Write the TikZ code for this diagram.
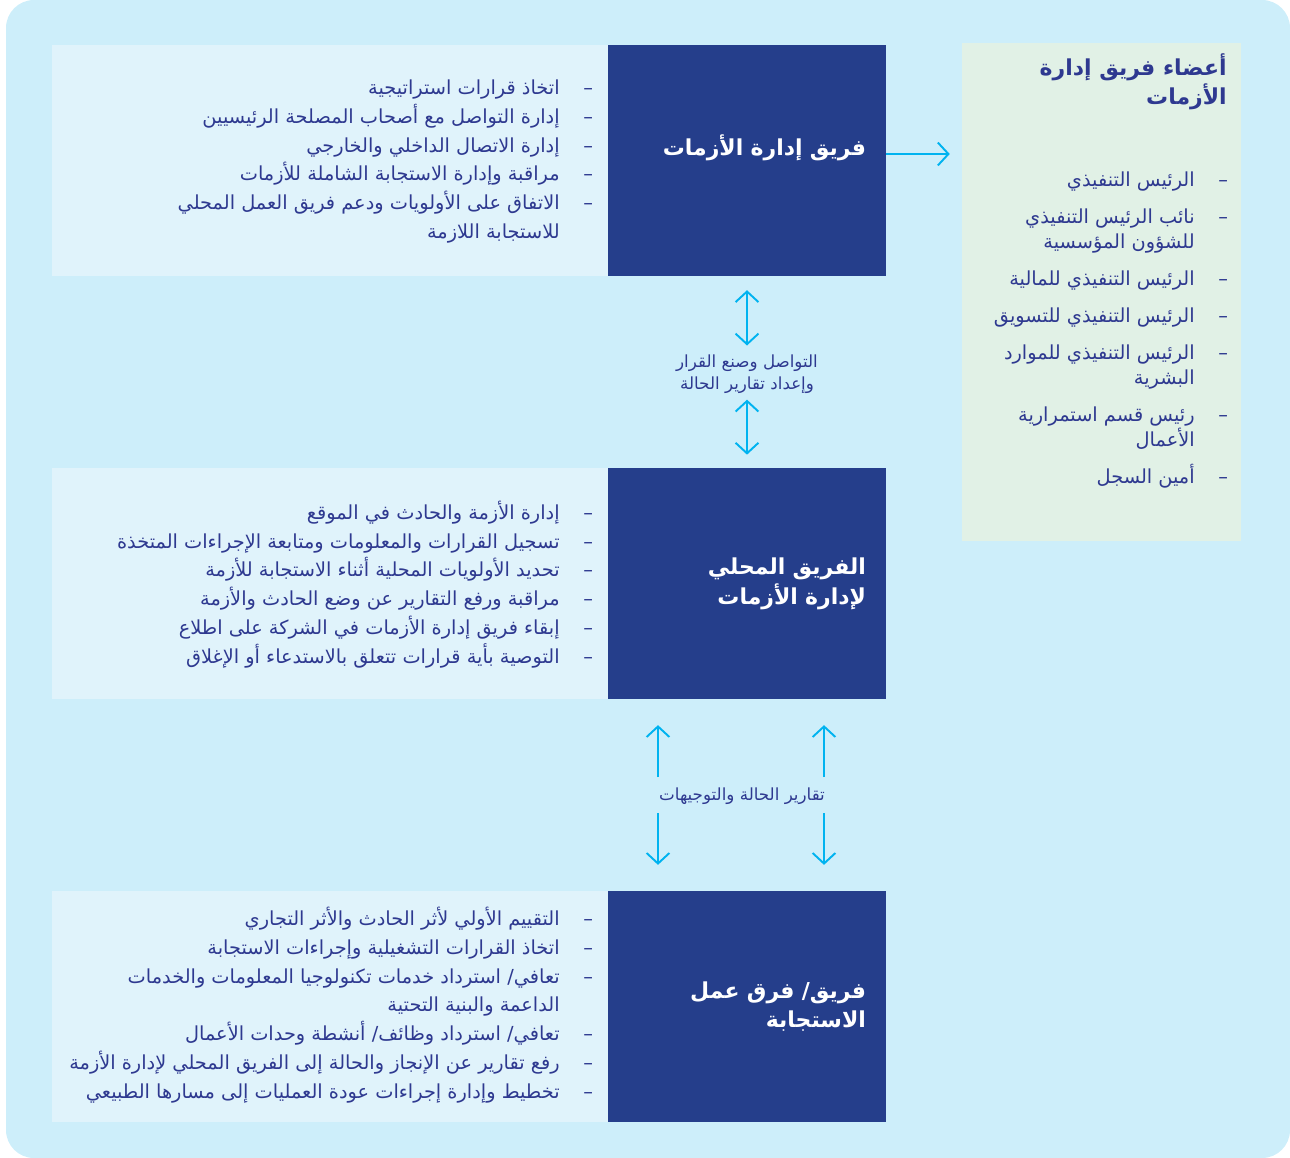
\documentclass[tikz,border=0pt]{standalone}
\usepackage{fontspec}
\usetikzlibrary{arrows.meta}
\TeXXeTstate=1
\newfontfamily\arabicfont[Script=Arabic]{DejaVu Sans}
\definecolor{bgblue}{HTML}{CDEEFA}
\definecolor{lightbox}{HTML}{E0F3FB}
\definecolor{memberbox}{HTML}{E1F1E6}
\definecolor{navybox}{HTML}{253E8B}
\definecolor{navytext}{HTML}{2E3990}
\definecolor{flowcyan}{HTML}{00B3F0}
\newcommand{\rl}[1]{\beginR #1\endR}
\newcommand{\itm}[1]{\beginR #1\endR\rlap{\hspace{13.5pt}–}}
\begin{document}
\begin{tikzpicture}[x=0.02cm, y=-0.02cm,
        darkbox/.style={fill=navybox, text=white, minimum width=5.56cm, minimum height=4.62cm, text width=4.76cm, align=right, inner sep=0, font=\arabicfont\bfseries\fontsize{12.5}{17}\selectfont},
        listbox/.style={fill=lightbox, minimum width=11.12cm, minimum height=4.62cm, inner sep=0},
        listtext/.style={anchor=east, align=right, inner sep=0, text=navytext, font=\arabicfont\fontsize{11}{16.4}\selectfont},
        flowlabel/.style={align=center, inner sep=0, text=navytext, font=\arabicfont\fontsize{9.5}{12.5}\selectfont},
        flow/.style={-{Straight Barb[length=6pt, width=13pt]}, line width=1.1pt, flowcyan},
        twoway/.style={flow, {Straight Barb[length=6pt, width=13pt]}-{Straight Barb[length=6pt, width=13pt]}}
    ]
        % background
        \useasboundingbox (0,0) rectangle (1290,1158);
        \fill[bgblue, rounded corners=0.56cm] (6,0) rectangle (1290,1158);

        % top level
        \node[listbox] (lct1) at (330,160.5) {};
        \node[darkbox, text depth=17pt] (crt) at (747,160.5) {\rl{فريق إدارة الأزمات}};
        \node[listtext] (crtlist) at (560,161.5) {\itm{اتخاذ قرارات استراتيجية}\\
            \itm{إدارة التواصل مع أصحاب المصلحة الرئيسيين}\\
            \itm{إدارة الاتصال الداخلي والخارجي}\\
            \itm{مراقبة وإدارة الاستجابة الشاملة للأزمات}\\
            \itm{الاتفاق على الأولويات ودعم فريق العمل المحلي}\\
            \rl{للاستجابة اللازمة}};

        % members
        \node[fill=memberbox, minimum width=5.58cm, minimum height=9.96cm, inner sep=0] (mem) at (1101.5,292) {};
        \node[anchor=east, align=right, inner sep=0, text=navytext, font=\arabicfont\bfseries\fontsize{12.5}{16.4}\selectfont] (memtitle) at (1227,82) {\rl{أعضاء فريق إدارة}\\ \rl{الأزمات}};
        \node[listtext, font=\arabicfont\fontsize{11}{14.2}\selectfont] (memlist) at (1195,330) {\itm{الرئيس التنفيذي}\\[6.8pt]
            \itm{نائب الرئيس التنفيذي}\\ \rl{للشؤون المؤسسية}\\[6.8pt]
            \itm{الرئيس التنفيذي للمالية}\\[6.8pt]
            \itm{الرئيس التنفيذي للتسويق}\\[6.8pt]
            \itm{الرئيس التنفيذي للموارد}\\ \rl{البشرية}\\[6.8pt]
            \itm{رئيس قسم استمرارية}\\ \rl{الأعمال}\\[6.8pt]
            \itm{أمين السجل}};

        % local level
        \node[listbox] (lct2) at (330,583.5) {};
        \node[darkbox] (lct) at (747,583.5) {\rl{الفريق المحلي}\\ \rl{لإدارة الأزمات}};
        \node[listtext] (lctlist) at (560,584.5) {\itm{إدارة الأزمة والحادث في الموقع}\\
            \itm{تسجيل القرارات والمعلومات ومتابعة الإجراءات المتخذة}\\
            \itm{تحديد الأولويات المحلية أثناء الاستجابة للأزمة}\\
            \itm{مراقبة ورفع التقارير عن وضع الحادث والأزمة}\\
            \itm{إبقاء فريق إدارة الأزمات في الشركة على اطلاع}\\
            \itm{التوصية بأية قرارات تتعلق بالاستدعاء أو الإغلاق}};

        % response level
        \node[listbox] (lct3) at (330,1006.5) {};
        \node[darkbox] (rt) at (747,1006.5) {\rl{فريق/ فرق عمل}\\ \rl{الاستجابة}};
        \node[listtext] (rtlist) at (560,1005) {\itm{التقييم الأولي لأثر الحادث والأثر التجاري}\\
            \itm{اتخاذ القرارات التشغيلية وإجراءات الاستجابة}\\
            \itm{تعافي/ استرداد خدمات تكنولوجيا المعلومات والخدمات}\\
            \rl{الداعمة والبنية التحتية}\\
            \itm{تعافي/ استرداد وظائف/ أنشطة وحدات الأعمال}\\
            \itm{رفع تقارير عن الإنجاز والحالة إلى الفريق المحلي لإدارة الأزمة}\\
            \itm{تخطيط وإدارة إجراءات عودة العمليات إلى مسارها الطبيعي}};

        % connectors
        \node[flowlabel] (lbl1) at (747,374) {\rl{التواصل وصنع القرار}\\ \rl{وإعداد تقارير الحالة}};
        \node[flowlabel] (lbl2) at (742,796) {\rl{تقارير الحالة والتوجيهات}};
        \draw[flow, shorten >=6.8pt] ([yshift=3.7pt]crt.east) -- ([yshift=3.7pt]crt.east -| mem.west);
        \draw[twoway, shorten <=7.9pt, shorten >=5pt] (crt.south) -- (lbl1.north);
        \draw[twoway, shorten <=3.4pt, shorten >=7.4pt] (lbl1.south) -- (lct.north);

        \coordinate (upl) at (658,777);
        \coordinate (upr) at (824,777);
        \coordinate (dnl) at (658,813);
        \coordinate (dnr) at (824,813);
        \draw[flow, shorten >=14.7pt] (upl) -- (upl |- lct.south);
        \draw[flow, shorten >=14.7pt] (upr) -- (upr |- lct.south);
        \draw[flow, shorten >=14.7pt] (dnl) -- (dnl |- rt.north);
        \draw[flow, shorten >=14.7pt] (dnr) -- (dnr |- rt.north);
    \end{tikzpicture}
\end{document}
